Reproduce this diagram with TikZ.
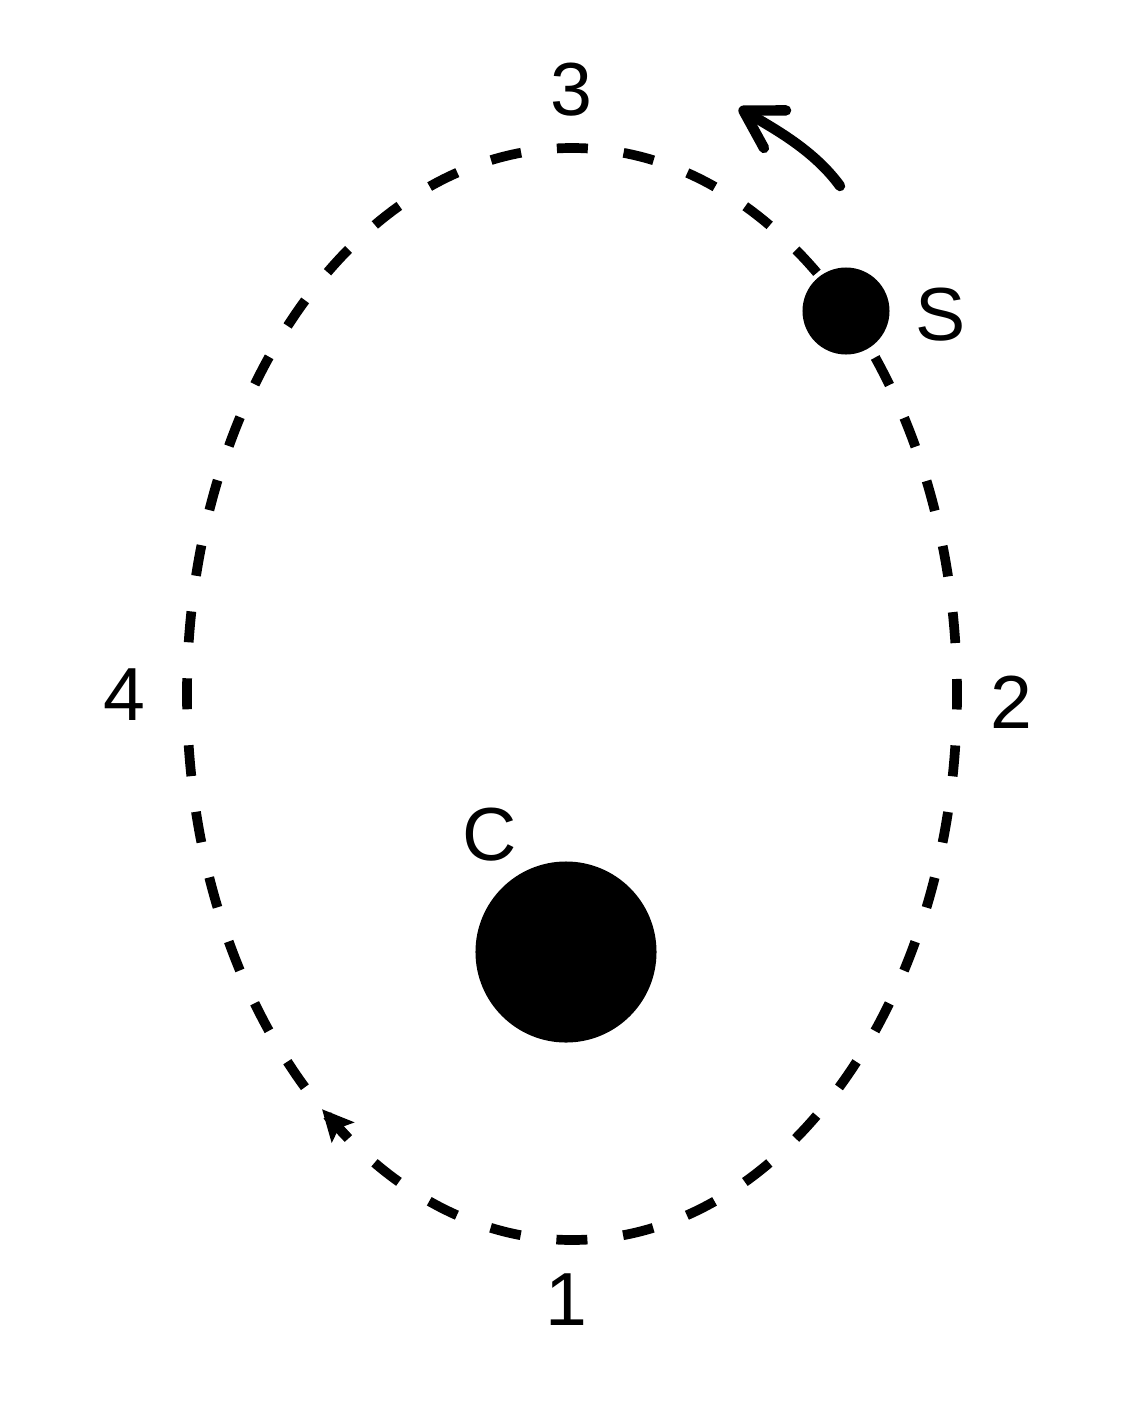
\documentclass[tikz,border=0pt]{standalone}
\usepackage{fontspec}
\setmainfont{Liberation Sans}
\usetikzlibrary{arrows.meta}
\tikzstyle{orbit} = [draw, line width=6.9pt, dash pattern=on 22.05pt off 25.59pt, dash phase=11.03pt]
\tikzstyle{orbitarrow} = [draw, line width=6.9pt, -{Stealth[length=22pt,width=21pt,inset=4pt]}]
\tikzstyle{body} = [circle, fill=black, draw=none, inner sep=0pt]
\tikzstyle{tag} = [inner sep=0pt, font=\fontsize{53.5pt}{60pt}\selectfont]
\tikzstyle{motion} = [draw, line width=7.4pt, line cap=round, -{Straight Barb[length=26pt,width=31pt,round]}]

\begin{document}
\begin{tikzpicture}[x=0.025cm,y=-0.025cm]
\fill[white] (0,0) rectangle (1122,1402);
\useasboundingbox (0,0) rectangle (1122,1402);
% orbit
\draw[orbit] (572,694) ellipse [x radius=385, y radius=546];
\coordinate (otail) at (348.4,1138.5);
\coordinate (ohead) at (322,1109.2);
\draw[orbitarrow] (otail) -- (ohead);
% bodies
\node[body, minimum size=4.525cm] (C) at (566,952) {};
\node[body, minimum size=2.175cm] (S) at (846,311) {};
\node[tag] (labelC) at (490,835) {C};
\node[tag] (labelS) at (941,315) {S};
% points on the orbit
\node[tag] (pos1) at (566,1300) {1};
\node[tag] (pos2) at (1011,702) {2};
\node[tag] (pos3) at (571,90) {3};
\node[tag] (pos4) at (124,695) {4};
% direction of S
\coordinate (stail) at (840,186);
\coordinate (shead) at (739,108);
\draw[motion] (stail) .. controls (814,150) and (773,128) .. (shead);
\end{tikzpicture}
\end{document}
